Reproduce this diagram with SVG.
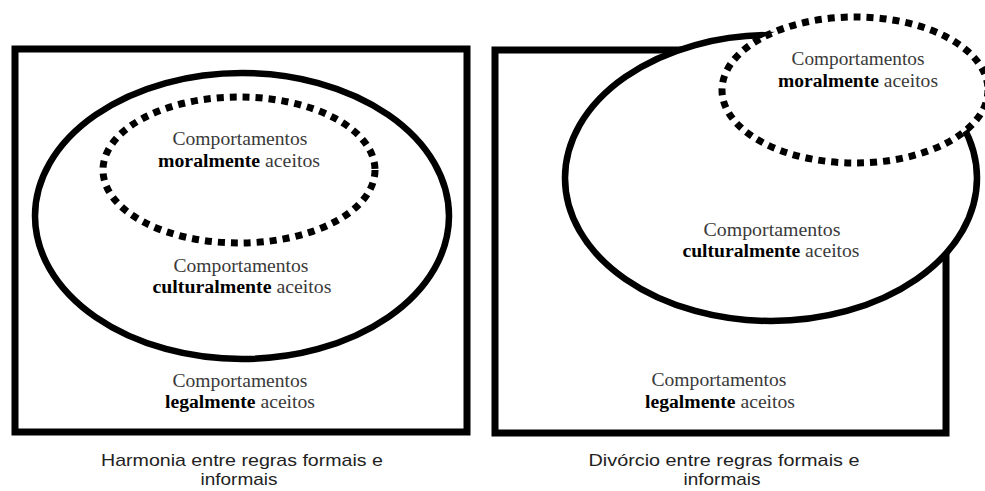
<svg xmlns="http://www.w3.org/2000/svg" width="985" height="491" viewBox="0 0 985 491">
<style>
.frame{fill:#fff;stroke:#000;stroke-width:7}
.solid{fill:#fff;stroke:#000;stroke-width:6.5}
.dotted{fill:#fff;stroke:#000;stroke-width:7;stroke-dasharray:7 6}
.lbl{font-family:"Liberation Serif","Times New Roman",serif;font-size:18px;fill:#3a3a3a;text-anchor:middle}
.lbl .b{font-weight:bold;fill:#000}
.cap{font-family:"Liberation Sans",Arial,sans-serif;font-size:17px;fill:#222;text-anchor:middle}
</style>
<rect width="985" height="491" fill="#fff"/>
<g id="left-panel">
  <g id="left-legal">
    <rect class="frame" x="15" y="49" width="452" height="383"/>
    <text class="lbl" x="240" y="387" textLength="135" lengthAdjust="spacingAndGlyphs">Comportamentos</text>
    <text class="lbl" x="240" y="408" textLength="150" lengthAdjust="spacingAndGlyphs"><tspan class="b">legalmente</tspan> aceitos</text>
  </g>
  <g id="left-cultural">
    <ellipse class="solid" cx="242" cy="216" rx="207" ry="143"/>
    <text class="lbl" x="241" y="272" textLength="135" lengthAdjust="spacingAndGlyphs">Comportamentos</text>
    <text class="lbl" x="242" y="293" textLength="179" lengthAdjust="spacingAndGlyphs"><tspan class="b">culturalmente</tspan> aceitos</text>
  </g>
  <g id="left-moral">
    <ellipse class="dotted" cx="239" cy="170" rx="136" ry="73"/>
    <text class="lbl" x="240" y="145" textLength="135" lengthAdjust="spacingAndGlyphs">Comportamentos</text>
    <text class="lbl" x="239" y="167" textLength="162" lengthAdjust="spacingAndGlyphs"><tspan class="b">moralmente</tspan> aceitos</text>
  </g>
  <g id="left-caption">
    <text class="cap" x="242" y="466" textLength="282" lengthAdjust="spacingAndGlyphs">Harmonia entre regras formais e</text>
    <text class="cap" x="239" y="485" textLength="77" lengthAdjust="spacingAndGlyphs">informais</text>
  </g>
</g>
<g id="right-panel">
  <g id="right-legal">
    <rect class="frame" x="495" y="50" width="451" height="383"/>
    <text class="lbl" x="719" y="386" textLength="135" lengthAdjust="spacingAndGlyphs">Comportamentos</text>
    <text class="lbl" x="720" y="408" textLength="150" lengthAdjust="spacingAndGlyphs"><tspan class="b">legalmente</tspan> aceitos</text>
  </g>
  <g id="right-cultural">
    <ellipse class="solid" cx="771" cy="178" rx="206" ry="143"/>
    <text class="lbl" x="772" y="236" textLength="137" lengthAdjust="spacingAndGlyphs">Comportamentos</text>
    <text class="lbl" x="771" y="257" textLength="177" lengthAdjust="spacingAndGlyphs"><tspan class="b">culturalmente</tspan> aceitos</text>
  </g>
  <g id="right-moral">
    <ellipse class="dotted" cx="855" cy="90" rx="133" ry="73"/>
    <text class="lbl" x="858" y="65" textLength="133" lengthAdjust="spacingAndGlyphs">Comportamentos</text>
    <text class="lbl" x="858" y="87" textLength="160" lengthAdjust="spacingAndGlyphs"><tspan class="b">moralmente</tspan> aceitos</text>
  </g>
  <g id="right-caption">
    <text class="cap" x="724" y="466" textLength="271" lengthAdjust="spacingAndGlyphs">Divórcio entre regras formais e</text>
    <text class="cap" x="722" y="485" textLength="77" lengthAdjust="spacingAndGlyphs">informais</text>
  </g>
</g>
<g id="connectors"/>
</svg>
